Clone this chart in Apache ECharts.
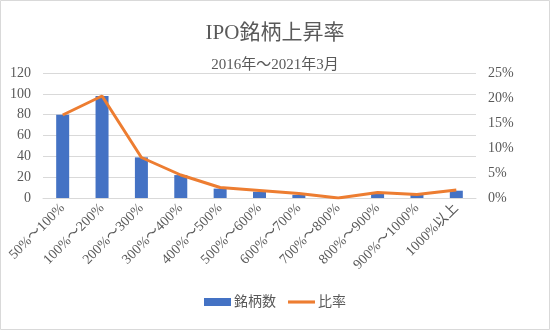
<!DOCTYPE html>
<html><head><meta charset="utf-8">
<script src="https://cdn.jsdelivr.net/npm/echarts@6/dist/echarts.min.js"></script>
<style>html,body{margin:0;padding:0;background:#fff}#c{width:550px;height:330px}</style>
</head><body><div id="c"></div>
<script>
const categories = ['50%～100%','100%～200%','200%～300%','300%～400%','400%～500%','500%～600%','600%～700%','700%～800%','800%～900%','900%～1000%','1000%以上'];
const counts = [80, 98, 39, 22, 9, 6, 3, 0, 4, 3, 7];
const ratios = [16.6, 20.4, 8.1, 4.6, 2.1, 1.5, 0.9, 0.0, 1.1, 0.7, 1.6];
const leftTicks = [0, 20, 40, 60, 80, 100, 120];
const rightTicks = [0, 5, 10, 15, 20, 25];

const FONT = "'Liberation Serif','DejaVu Serif','Noto Sans CJK JP',serif";
const TXT = '#595959';
const chart = echarts.init(document.getElementById('c'));
chart.setOption({
  animation: false,
  textStyle: {fontFamily: FONT},
  graphic: [{type:'rect', shape:{x:0.5,y:0.5,width:549,height:329}, style:{fill:'none', stroke:'#d9d9d9', lineWidth:1}}],
  title: {
    text: 'IPO銘柄上昇率', subtext: '2016年～2021年3月', left: 'center', top: 18,
    textStyle: {fontFamily: FONT, fontSize: 21, fontWeight: 'normal', color: TXT},
    subtextStyle: {fontFamily: FONT, fontSize: 15, color: TXT},
    itemGap: 14
  },
  legend: {
    bottom: 16, left: 'center', itemWidth: 27, itemHeight: 8, itemGap: 12,
    textStyle: {fontFamily: FONT, fontSize: 14, color: TXT, padding: [0, 0, 0, -2]},
    data: [{name:'銘柄数', icon:'rect'}, {name:'比率', icon:'path://M0,4L26,4L26,7L0,7Z'}]
  },
  grid: {left: 43, right: 74, top: 73, bottom: 132},
  xAxis: {
    type: 'category', data: categories,
    axisLine: {lineStyle: {color: '#d9d9d9'}}, axisTick: {show: false},
    axisLabel: {rotate: 45, interval: 0, fontFamily: FONT, fontSize: 14, color: TXT, margin: 8}
  },
  yAxis: [{
    type: 'value', min: 0, max: 120, interval: 20,
    axisLabel: {fontFamily: FONT, fontSize: 14, color: TXT, margin: 12,
      formatter: v => leftTicks.includes(v) ? String(v) : ''},
    splitLine: {lineStyle: {color: '#d9d9d9'}}, axisLine: {show: false}, axisTick: {show: false}
  }, {
    type: 'value', min: 0, max: 25, interval: 5, position: 'right',
    axisLabel: {fontFamily: FONT, fontSize: 14, color: TXT, margin: 12,
      formatter: v => rightTicks.includes(v) ? v + '%' : ''},
    splitLine: {show: false}, axisLine: {show: false}, axisTick: {show: false}
  }],
  series: [{
    name: '銘柄数', type: 'bar', data: counts, barWidth: 13, yAxisIndex: 0,
    itemStyle: {color: '#4472C4'}
  }, {
    name: '比率', type: 'line', data: ratios, yAxisIndex: 1, symbol: 'none',
    lineStyle: {color: '#ED7D31', width: 3}, itemStyle: {color: '#ED7D31'}
  }]
});
</script></body></html>
